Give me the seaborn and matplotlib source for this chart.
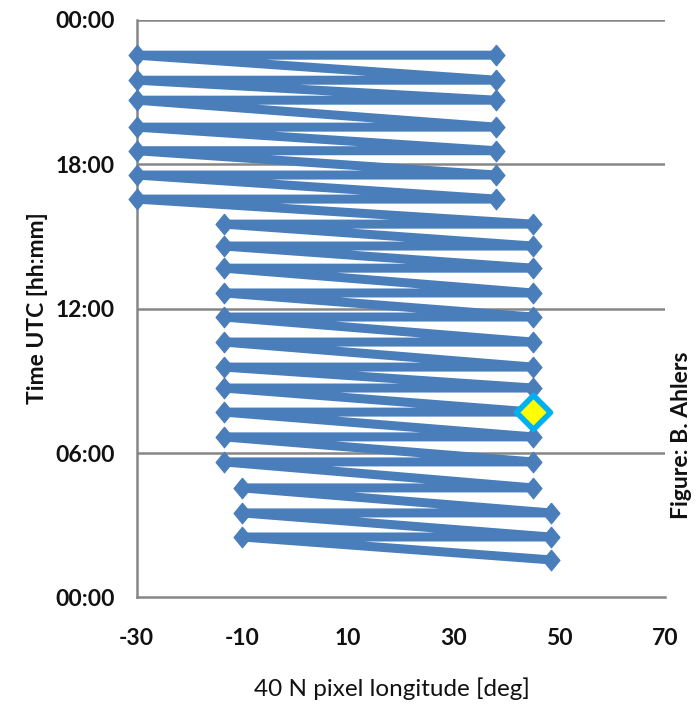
import matplotlib
matplotlib.use("Agg")
import matplotlib.pyplot as plt
from matplotlib.ticker import FuncFormatter
import numpy as np
import pandas as pd
import seaborn as sns

# Scan rows: time (hours UTC), western and eastern 40N pixel longitude (deg)
row_time = [22.53, 21.49, 20.66, 19.54, 18.56, 17.55, 16.55,
            15.51, 14.60, 13.68, 12.65, 11.65, 10.61, 9.57, 8.70, 7.70,
            6.67, 5.63, 4.55, 3.51, 2.51]
row_west = [-30, -30, -30, -30, -30, -30, -30,
            -13.5, -13.5, -13.5, -13.5, -13.5, -13.5, -13.5, -13.5, -13.5,
            -13.5, -13.5, -10, -10, -10]
row_east = [38, 38, 38, 38, 38, 38, 38,
            45, 45, 45, 45, 45, 45, 45, 45, 45,
            45, 45, 45, 48.3, 48.3]
final_time = 1.56
final_east = 48.3

# highlighted observation
hi_lon = [45]
hi_time = [7.70]

x_ticks = [-30, -10, 10, 30, 50, 70]
y_ticks = [0, 6, 12, 18, 24]

seq_lon, seq_time = [], []
for t, w, e in zip(row_time, row_west, row_east):
    seq_lon += [e, w]
    seq_time += [t, t]
seq_lon.append(final_east)
seq_time.append(final_time)
df = pd.DataFrame({"lon": seq_lon, "time": seq_time})

sns.set_style("white")
plt.rcParams["font.family"] = ["Lato", "DejaVu Sans"]

fig = plt.figure(figsize=(6.98, 7.07), dpi=100)
ax = fig.add_axes([0.196, 0.155, 0.757, 0.817])

blue = "#4a7ebb"
diamond = [(0, 1), (0.82, 0), (0, -1), (-0.82, 0), (0, 1)]
sns.lineplot(data=df, x="lon", y="time", sort=False, estimator=None,
             color=blue, linewidth=6.5, marker=diamond, markersize=15,
             markeredgecolor=blue, ax=ax, clip_on=False, zorder=3)
sns.scatterplot(x=hi_lon, y=hi_time, marker="D", s=300, color="#ffff00",
                edgecolor="#00b0f0", linewidth=4, ax=ax, zorder=5,
                clip_on=False)

ax.set_xlim(-30, 70)
ax.set_ylim(0, 24)
ax.set_xticks(x_ticks)
ax.set_yticks(y_ticks)
ax.yaxis.set_major_formatter(FuncFormatter(lambda v, p: f"{int(round(v)) % 24:02d}:00"))
ax.set_xticklabels([str(v) for v in x_ticks])

for yv in [6, 12, 18, 24]:
    ax.axhline(yv, color="#868686", linewidth=1.8, zorder=1)

for s in ["top", "right"]:
    ax.spines[s].set_visible(False)
for s in ["left", "bottom"]:
    ax.spines[s].set_color("#868686")
    ax.spines[s].set_linewidth(1.8)

ax.tick_params(axis="both", length=0, labelsize=16.5, colors="#111111")
ax.tick_params(axis="y", pad=16)
ax.tick_params(axis="x", pad=22)
for lbl in ax.get_xticklabels() + ax.get_yticklabels():
    lbl.set_fontweight("bold")

ax.set_xlabel("40 N pixel longitude [deg]", fontsize=17.5, color="#111111")
ax.xaxis.set_label_coords(0.483, -0.138)
ax.set_ylabel("Time UTC [hh:mm]", fontsize=16.5, fontweight="bold", color="#111111")
ax.yaxis.set_label_coords(-0.168, 0.5)

fig.text(0.977, 0.385, "Figure: B. Ahlers", rotation=90, fontsize=16.5,
         fontweight="bold", ha="center", va="center", color="#111111")

fig.savefig("out.png", dpi=100)
